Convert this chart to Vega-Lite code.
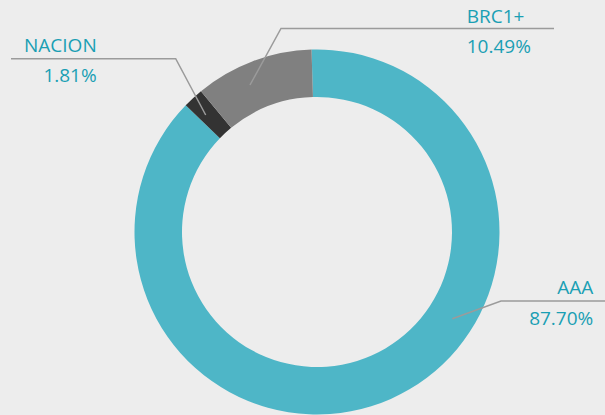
{
  "$schema": "https://vega.github.io/schema/vega-lite/v6.json",
  "width": 605,
  "height": 415,
  "autosize": {"type": "none"},
  "padding": 0,
  "background": "#ededed",
  "config": {"view": {"stroke": null}, "text": {"font": "Open Sans"}},
  "datasets": {
    "slices": [
      {"segment": "AAA", "share": 87.70, "ord": 1},
      {"segment": "NACION", "share": 1.81, "ord": 2},
      {"segment": "BRC1+", "share": 10.49, "ord": 3}
    ],
    "leaders": [
      {"segment": "NACION", "seq": 1, "px": -306, "py": 173.3},
      {"segment": "NACION", "seq": 2, "px": -141.3, "py": 173.3},
      {"segment": "NACION", "seq": 3, "px": -111.3, "py": 117},
      {"segment": "BRC1+", "seq": 1, "px": -67, "py": 147},
      {"segment": "BRC1+", "seq": 2, "px": -36, "py": 203.5},
      {"segment": "BRC1+", "seq": 3, "px": 237, "py": 203.5},
      {"segment": "AAA", "seq": 1, "px": 135.3, "py": -86.7},
      {"segment": "AAA", "seq": 2, "px": 184, "py": -69},
      {"segment": "AAA", "seq": 3, "px": 290, "py": -69}
    ],
    "labels": [
      {"segment": "NACION", "text": "NACION", "tx": -220.3, "ty": 179.7},
      {"segment": "NACION", "text": "1.81%", "tx": -220.3, "ty": 149.7},
      {"segment": "BRC1+", "text": "BRC1+", "tx": 149.7, "ty": 209.3},
      {"segment": "BRC1+", "text": "10.49%", "tx": 149.7, "ty": 178.7},
      {"segment": "AAA", "text": "AAA", "tx": 276.3, "ty": -62},
      {"segment": "AAA", "text": "87.70%", "tx": 276.3, "ty": -93}
    ]
  },
  "layer": [
    {
      "data": {"name": "slices"},
      "mark": {"type": "arc", "outerRadius": 182.5, "innerRadius": 135},
      "encoding": {
        "theta": {"field": "share", "type": "quantitative", "stack": true, "scale": {"range": [-0.03, 6.2532]}},
        "color": {"field": "segment", "type": "nominal", "scale": {"domain": ["AAA", "NACION", "BRC1+"], "range": ["#4eb6c7", "#333333", "#808080"]}, "legend": null},
        "order": {"field": "ord", "type": "quantitative"},
        "x": {"datum": 0, "type": "quantitative", "scale": {"domain": [-317, 288], "nice": false, "zero": false}, "axis": null},
        "y": {"datum": 0, "type": "quantitative", "scale": {"domain": [-183, 232], "nice": false, "zero": false}, "axis": null}
      }
    },
    {
      "data": {"name": "leaders"},
      "mark": {"type": "line", "color": "#9b9b9b", "strokeWidth": 1.5},
      "encoding": {
        "x": {"field": "px", "type": "quantitative", "scale": {"domain": [-317, 288], "nice": false, "zero": false}, "axis": null},
        "y": {"field": "py", "type": "quantitative", "scale": {"domain": [-183, 232], "nice": false, "zero": false}, "axis": null},
        "detail": {"field": "segment"},
        "order": {"field": "seq", "type": "quantitative"}
      }
    },
    {
      "data": {"name": "labels"},
      "transform": [{"filter": "datum.segment !== 'BRC1+'"}],
      "mark": {"type": "text", "align": "right", "baseline": "alphabetic", "fontSize": 19, "color": "#1a9fb4"},
      "encoding": {
        "x": {"field": "tx", "type": "quantitative", "scale": {"domain": [-317, 288], "nice": false, "zero": false}, "axis": null},
        "y": {"field": "ty", "type": "quantitative", "scale": {"domain": [-183, 232], "nice": false, "zero": false}, "axis": null},
        "text": {"field": "text"}
      }
    },
    {
      "data": {"name": "labels"},
      "transform": [{"filter": "datum.segment === 'BRC1+'"}],
      "mark": {"type": "text", "align": "left", "baseline": "alphabetic", "fontSize": 19, "color": "#1a9fb4"},
      "encoding": {
        "x": {"field": "tx", "type": "quantitative", "scale": {"domain": [-317, 288], "nice": false, "zero": false}, "axis": null},
        "y": {"field": "ty", "type": "quantitative", "scale": {"domain": [-183, 232], "nice": false, "zero": false}, "axis": null},
        "text": {"field": "text"}
      }
    }
  ]
}
